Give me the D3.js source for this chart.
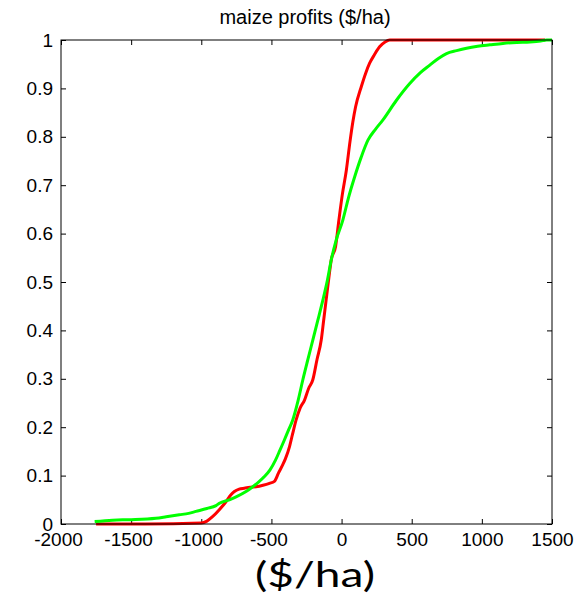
<!DOCTYPE html>
<html>
<head>
<meta charset="utf-8">
<script src="https://cdn.jsdelivr.net/npm/d3@7"></script>
<style>
  body { margin: 0; background: #fff; }
  svg text { font-family: "Liberation Sans", Arial, sans-serif; fill: #000; }
</style>
</head>
<body>
<div id="chart"></div>
<script>
// profit ($/ha) vs cumulative probability
const redProfit = [-1750, -1400, -1000, -960, -920, -870, -824, -790, -764, -730, -693, -650, -609, -560, -514, -479, -450, -420, -400, -371, -350, -324, -295, -264, -235, -205, -175, -145, -128, -110, -90, -74, -43, -19, 5, 34, 60, 80, 100, 141, 170, 200, 235, 271, 310, 343, 1450];
const redProb = [0, 0, 0.002, 0.006, 0.015, 0.03, 0.046, 0.06, 0.067, 0.072, 0.074, 0.076, 0.077, 0.08, 0.084, 0.088, 0.105, 0.122, 0.135, 0.16, 0.185, 0.215, 0.24, 0.256, 0.28, 0.298, 0.34, 0.38, 0.42, 0.463, 0.51, 0.545, 0.573, 0.628, 0.68, 0.731, 0.79, 0.83, 0.862, 0.904, 0.93, 0.952, 0.97, 0.986, 0.996, 1, 1];

const greenProfit = [-1760, -1633, -1500, -1324, -1250, -1157, -1090, -1038, -960, -895, -871, -800, -752, -681, -633, -590, -550, -510, -471, -440, -410, -380, -348, -310, -276, -240, -205, -170, -133, -100, -74, -40, 9, 50, 93, 140, 188, 240, 295, 390, 486, 560, 629, 690, 748, 820, 891, 970, 1057, 1150, 1248, 1343, 1420, 1462, 1500];
const greenProb = [0.005, 0.008, 0.009, 0.012, 0.015, 0.019, 0.022, 0.026, 0.032, 0.038, 0.043, 0.05, 0.056, 0.067, 0.077, 0.087, 0.098, 0.112, 0.132, 0.152, 0.172, 0.193, 0.215, 0.255, 0.298, 0.34, 0.38, 0.42, 0.463, 0.505, 0.545, 0.585, 0.628, 0.675, 0.717, 0.758, 0.793, 0.815, 0.835, 0.875, 0.91, 0.932, 0.948, 0.962, 0.972, 0.978, 0.983, 0.987, 0.99, 0.993, 0.995, 0.996, 0.998, 1, 1];

const xTicks = [-2000, -1500, -1000, -500, 0, 500, 1000, 1500];
const yTicks = [0, 0.1, 0.2, 0.3, 0.4, 0.5, 0.6, 0.7, 0.8, 0.9, 1];

const titleText = "maize profits ($/ha)";
const xLabelText = "($/ha)";

const canvasWidth = 578;
const canvasHeight = 603;
const plot = { left: 61, right: 552, top: 40, bottom: 524 };
const tickLen = 5;
const fontSize = 19;

const svg = d3.select("#chart")
    .append("svg")
    .attr("width", canvasWidth)
    .attr("height", canvasHeight);

const xScale = d3.scaleLinear().domain([-2000, 1500]).range([plot.left, plot.right]);
const yScale = d3.scaleLinear().domain([0, 1]).range([plot.bottom, plot.top]);

const styleAxis = g => {
    g.select(".domain").remove();
    g.selectAll(".tick line").attr("stroke", "#000");
    g.selectAll(".tick text").attr("font-size", fontSize).attr("fill", "#000")
        .attr("font-family", "Liberation Sans, Arial, sans-serif");
};

// bottom axis (labels) + inward ticks
svg.append("g")
    .attr("transform", `translate(0,${plot.bottom})`)
    .call(d3.axisBottom(xScale).tickValues(xTicks).tickSize(-tickLen).tickPadding(9).tickFormat(d => String(d)))
    .call(styleAxis)
    .call(g => g.selectAll(".tick text").attr("dx", d => d < 0 ? -3 : 0));

svg.append("g")
    .attr("transform", `translate(0,${plot.top})`)
    .call(d3.axisTop(xScale).tickValues(xTicks).tickSize(-tickLen).tickFormat(""))
    .call(styleAxis);

svg.append("g")
    .attr("transform", `translate(${plot.left},0)`)
    .call(d3.axisLeft(yScale).tickValues(yTicks).tickSize(-tickLen).tickPadding(8).tickFormat(d => String(d)))
    .call(styleAxis);

svg.append("g")
    .attr("transform", `translate(${plot.right},0)`)
    .call(d3.axisRight(yScale).tickValues(yTicks).tickSize(-tickLen).tickFormat(""))
    .call(styleAxis);

const line = d3.line()
    .x(d => xScale(d[0]))
    .y(d => yScale(d[1]))
    .curve(d3.curveMonotoneX);

const series = [
    { profit: redProfit, prob: redProb, color: "#ff0000" },
    { profit: greenProfit, prob: greenProb, color: "#00ff00" }
];

series.forEach(s => {
    svg.append("path")
        .datum(s.profit.map((v, i) => [v, s.prob[i]]))
        .attr("fill", "none")
        .attr("stroke", s.color)
        .attr("stroke-width", 3)
        .attr("stroke-linejoin", "round")
        .attr("d", line);
});

// box
svg.append("rect")
    .attr("x", plot.left)
    .attr("y", plot.top)
    .attr("width", plot.right - plot.left)
    .attr("height", plot.bottom - plot.top)
    .attr("fill", "none")
    .attr("stroke", "#000")
    .attr("stroke-width", 1);

// title
svg.append("text")
    .attr("x", 305)
    .attr("y", 24)
    .attr("text-anchor", "middle")
    .attr("font-size", 20)
    .text(titleText);

// big x label
svg.append("text")
    .attr("x", 315)
    .attr("y", 587)
    .attr("text-anchor", "middle")
    .attr("font-size", 35)
    .style("font-family", "Lato, 'Open Sans', sans-serif")
    .attr("textLength", 120)
    .attr("lengthAdjust", "spacingAndGlyphs")
    .text(xLabelText);
</script>
</body>
</html>
